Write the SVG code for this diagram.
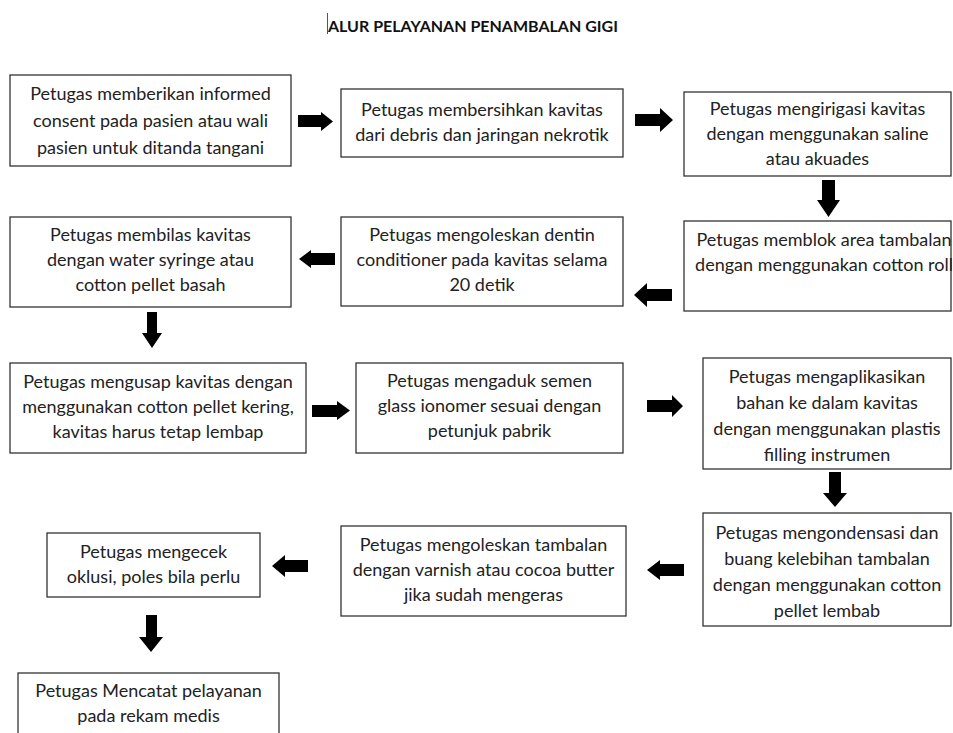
<svg xmlns="http://www.w3.org/2000/svg" width="953" height="733" viewBox="0 0 953 733">
<style>
.bg{fill:#ffffff}
.box{fill:#ffffff;stroke:#333333;stroke-width:1.3}
.t{font-family:Lato,"Liberation Sans",sans-serif;font-size:18px;fill:#222222;text-anchor:middle}
.title{font-family:Lato,"Liberation Sans",sans-serif;font-size:16px;font-weight:bold;fill:#111111}
.arr{fill:#000000}
</style>
<rect class="bg" x="0" y="0" width="953" height="733"/>
<g id="title">
<line x1="327.5" y1="13" x2="327.5" y2="34" stroke="#555555" stroke-width="1"/>
<text class="title" x="328" y="32">ALUR PELAYANAN PENAMBALAN GIGI</text>
</g>
<g id="n1"><rect class="box" x="10" y="75" width="281" height="91"/>
<text class="t" x="150.5" y="100">Petugas memberikan informed</text>
<text class="t" x="150.5" y="127">consent pada pasien atau wali</text>
<text class="t" x="150.5" y="154">pasien untuk ditanda tangani</text></g>
<g id="n2"><rect class="box" x="341" y="89" width="282" height="68"/>
<text class="t" x="482" y="116">Petugas membersihkan kavitas</text>
<text class="t" x="482" y="141">dari debris dan jaringan nekrotik</text></g>
<g id="n3"><rect class="box" x="684" y="92" width="267" height="84"/>
<text class="t" x="817.5" y="115">Petugas mengirigasi kavitas</text>
<text class="t" x="817.5" y="140">dengan menggunakan saline</text>
<text class="t" x="817.5" y="165">atau akuades</text></g>
<g id="n4"><rect class="box" x="684" y="221" width="267" height="90"/>
<text class="t" x="824" y="246">Petugas memblok area tambalan</text>
<text class="t" x="824" y="271">dengan menggunakan cotton roll</text></g>
<g id="n5"><rect class="box" x="341" y="217" width="282" height="89"/>
<text class="t" x="482" y="241">Petugas mengoleskan dentin</text>
<text class="t" x="482" y="266">conditioner pada kavitas selama</text>
<text class="t" x="482" y="291">20 detik</text></g>
<g id="n6"><rect class="box" x="10" y="217" width="281" height="90"/>
<text class="t" x="150.5" y="241">Petugas membilas kavitas</text>
<text class="t" x="150.5" y="266">dengan water syringe atau</text>
<text class="t" x="150.5" y="291">cotton pellet basah</text></g>
<g id="n7"><rect class="box" x="10" y="363" width="296" height="90"/>
<text class="t" x="158" y="388">Petugas mengusap kavitas dengan</text>
<text class="t" x="158" y="413">menggunakan cotton pellet kering,</text>
<text class="t" x="158" y="438">kavitas harus tetap lembap</text></g>
<g id="n8"><rect class="box" x="356" y="363" width="267" height="90"/>
<text class="t" x="489.5" y="387">Petugas mengaduk semen</text>
<text class="t" x="489.5" y="412">glass ionomer sesuai dengan</text>
<text class="t" x="489.5" y="437">petunjuk pabrik</text></g>
<g id="n9"><rect class="box" x="703" y="358" width="248" height="111"/>
<text class="t" x="827" y="383">Petugas mengaplikasikan</text>
<text class="t" x="827" y="409">bahan ke dalam kavitas</text>
<text class="t" x="827" y="435">dengan menggunakan plastis</text>
<text class="t" x="827" y="461">filling instrumen</text></g>
<g id="n10"><rect class="box" x="703" y="513" width="248" height="113"/>
<text class="t" x="827" y="539">Petugas mengondensasi dan</text>
<text class="t" x="827" y="565">buang kelebihan tambalan</text>
<text class="t" x="827" y="591">dengan menggunakan cotton</text>
<text class="t" x="827" y="617">pellet lembab</text></g>
<g id="n11"><rect class="box" x="341" y="526" width="285" height="90"/>
<text class="t" x="483.5" y="551">Petugas mengoleskan tambalan</text>
<text class="t" x="483.5" y="576">dengan varnish atau cocoa butter</text>
<text class="t" x="483.5" y="601">jika sudah mengeras</text></g>
<g id="n12"><rect class="box" x="47" y="533" width="213" height="64"/>
<text class="t" x="153.5" y="558">Petugas mengecek</text>
<text class="t" x="153.5" y="583">oklusi, poles bila perlu</text></g>
<g id="n13"><rect class="box" x="18" y="673" width="261" height="80"/>
<text class="t" x="148.5" y="697">Petugas Mencatat pelayanan</text>
<text class="t" x="148.5" y="722">pada rekam medis</text></g>
<g id="connectors">
<polygon class="arr" points="298,115 321,115 321,112 333,121.5 321,131 321,127 298,127"/>
<polygon class="arr" points="635,114 660,114 660,108 673,120 660,132 660,126 635,126"/>
<polygon class="arr" points="822,180 835,180 835,200 840,200 828.5,217 817,200 822,200"/>
<polygon class="arr" points="672,289 647,289 647,283 634,295 647,307 647,301 672,301"/>
<polygon class="arr" points="335,253 311,253 311,250 299,259 311,268 311,265 335,265"/>
<polygon class="arr" points="147,312 157,312 157,333 162,333 152,348 142,333 147,333"/>
<polygon class="arr" points="312,405 337,405 337,401 350,410.5 337,420 337,417 312,417"/>
<polygon class="arr" points="647,400 672,400 672,395 683,406 672,417 672,412 647,412"/>
<polygon class="arr" points="829,472 841,472 841,493 847,493 835,507 823,493 829,493"/>
<polygon class="arr" points="684,564 660,564 660,560 647,570 660,580 660,576 684,576"/>
<polygon class="arr" points="308,560 285,560 285,555 272,566 285,577 285,572 308,572"/>
<polygon class="arr" points="146,615 157,615 157,637 163,637 151,652 139,637 146,637"/>
</g>
</svg>
